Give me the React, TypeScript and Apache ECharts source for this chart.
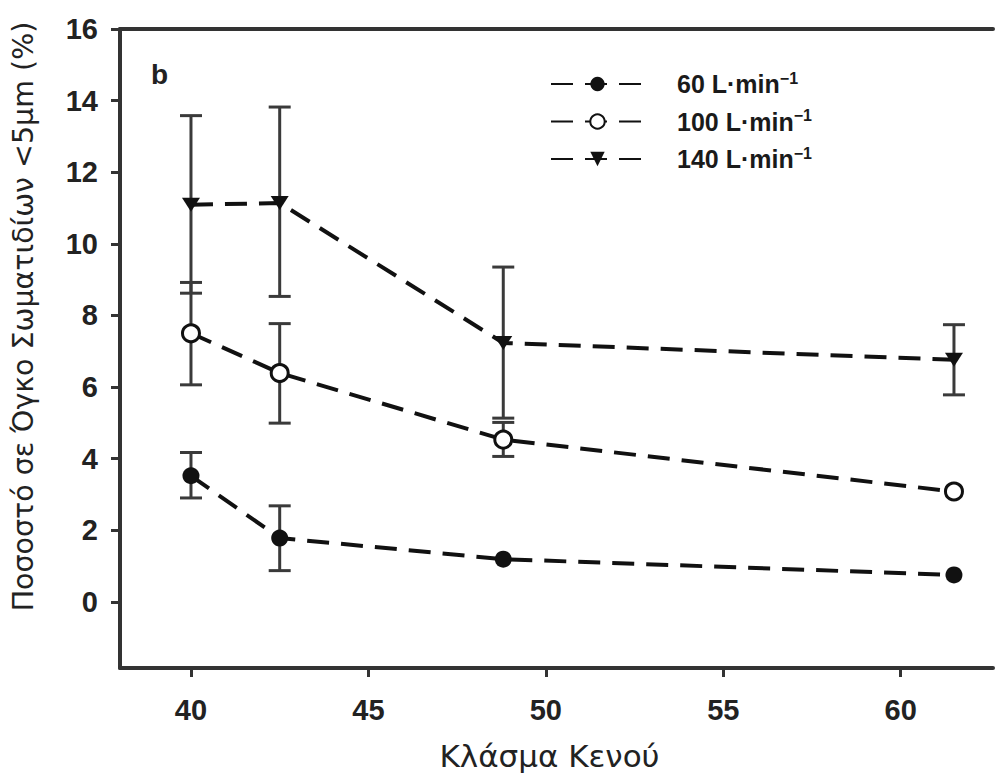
import React, { useEffect, useRef } from "react";
import * as echarts from "echarts";

// ---- data ----
const xValues = [40, 42.5, 48.8, 61.5];
const seriesNames = ["60", "100", "140"];

const y60 = [3.52, 1.78, 1.19, 0.75];
const lo60 = [2.9, 0.87, null, null];
const hi60 = [4.17, 2.68, null, null];

const y100 = [7.5, 6.39, 4.53, 3.08];
const lo100 = [6.06, 4.99, 4.06, null];
const hi100 = [8.92, 7.77, 5.01, null];

const y140 = [11.09, 11.14, 7.23, 6.76];
const lo140 = [8.62, 8.53, 5.13, 5.78];
const hi140 = [13.58, 13.82, 9.35, 7.74];

const xTicks = [40, 45, 50, 55, 60];
const yTicks = [0, 2, 4, 6, 8, 10, 12, 14, 16];

const xTitle = "Κλάσμα Κενού";
const yTitle = "Ποσοστό σε Όγκο Σωματιδίων <5μm (%)";
const panelLabel = "b";

const FONT = "Liberation Sans, Arial, sans-serif";
const TITLE_FONT = "DejaVu Sans, Verdana, sans-serif";
const INK = "#111";
const AXIS = "#333";

function pts(ys: number[]) {
  return xValues.map((x, i) => [x, ys[i]]);
}
function errs(lo: (number | null)[], hi: (number | null)[]) {
  const out: number[][] = [];
  xValues.forEach((x, i) => {
    if (lo[i] != null && hi[i] != null) out.push([x, lo[i] as number, hi[i] as number]);
  });
  return out;
}

function errorSeries(name: string, data: number[][]) {
  return {
    type: "custom",
    name,
    z: 1,
    silent: true,
    encode: { x: 0, y: [1, 2] },
    data,
    renderItem: (params: any, api: any) => {
      const x = api.value(0);
      const pLo = api.coord([x, api.value(1)]);
      const pHi = api.coord([x, api.value(2)]);
      const half = 11;
      const style = { stroke: "#3a3a3a", lineWidth: 3 };
      return {
        type: "group",
        children: [
          { type: "line", shape: { x1: pLo[0], y1: pLo[1], x2: pHi[0], y2: pHi[1] }, style },
          { type: "line", shape: { x1: pLo[0] - half, y1: pLo[1], x2: pLo[0] + half, y2: pLo[1] }, style },
          { type: "line", shape: { x1: pHi[0] - half, y1: pHi[1], x2: pHi[0] + half, y2: pHi[1] }, style },
        ],
      };
    },
  };
}

const lineStyle = { color: INK, width: 4, type: [22, 12] as any };

export default function App() {
  const ref = useRef<HTMLDivElement>(null);
  useEffect(() => {
    if (!ref.current) return;
    const chart = echarts.init(ref.current, null, { renderer: "svg" });
    chart.setOption({
      animation: false,
      backgroundColor: "#fff",
      title: {
        text: panelLabel,
        left: 146,
        top: 55,
        textStyle: { fontFamily: FONT, fontSize: 28, fontWeight: "bold", color: "#222" },
      },
      grid: { left: 120, top: 29, right: 5, bottom: 108, containLabel: false },
      legend: {
        data: seriesNames,
        selectedMode: false,
        orient: "vertical",
        left: 545,
        top: 65,
        itemWidth: 93,
        itemHeight: 18,
        itemGap: 11,
        formatter: (n: string) => `{g| }{a|${n} L·min}{s|−1}`,
        textStyle: {
          fontFamily: FONT,
          fontWeight: "bold",
          fontSize: 25,
          color: "#1a1a1a",
          rich: {
            g: { width: 28 },
            a: { fontFamily: FONT, fontWeight: "bold", fontSize: 25, lineHeight: 28, color: "#1a1a1a" },
            s: { fontFamily: FONT, fontWeight: "bold", fontSize: 16, lineHeight: 16, verticalAlign: "top", color: "#1a1a1a" },
          },
        },
      },
      xAxis: [
        {
          type: "value",
          min: 38,
          max: 62.6,
          name: xTitle,
          nameLocation: "middle",
          nameGap: 72,
          nameTextStyle: { fontFamily: TITLE_FONT, fontSize: 31, color: "#222", padding: [0, 14, 0, 0] },
          axisLine: { show: true, onZero: false, lineStyle: { color: AXIS, width: 4 } },
          axisTick: { show: true, length: 9, lineStyle: { color: AXIS, width: 3 }, customValues: xTicks },
          axisLabel: {
            customValues: xTicks,
            margin: 27,
            fontFamily: FONT,
            fontSize: 29,
            fontWeight: "bold",
            color: "#222",
          },
          splitLine: { show: false },
        },
        {
          type: "value",
          position: "top",
          min: 38,
          max: 62.6,
          axisLine: { show: true, onZero: false, lineStyle: { color: AXIS, width: 4 } },
          axisTick: { show: false },
          axisLabel: { show: false },
          splitLine: { show: false },
        },
      ],
      yAxis: {
        type: "value",
        min: -1.85,
        max: 16,
        name: yTitle,
        nameLocation: "middle",
        nameGap: 82,
        nameTextStyle: { fontFamily: TITLE_FONT, fontSize: 28.5, color: "#222", padding: [0, 0, 0, 64] },
        axisLine: { show: true, onZero: false, lineStyle: { color: AXIS, width: 4 } },
        axisTick: { show: true, length: 9, lineStyle: { color: AXIS, width: 3 }, customValues: yTicks },
        axisLabel: {
          customValues: yTicks,
          margin: 22,
          fontFamily: FONT,
          fontSize: 29,
          fontWeight: "bold",
          color: "#222",
        },
        splitLine: { show: false },
      },
      series: [
        errorSeries("err60", errs(lo60, hi60)),
        errorSeries("err100", errs(lo100, hi100)),
        errorSeries("err140", errs(lo140, hi140)),
        {
          type: "line",
          name: "60",
          z: 3,
          data: pts(y60),
          symbol: "circle",
          symbolSize: 17,
          itemStyle: { color: INK, borderColor: INK, borderWidth: 0 },
          lineStyle,
        },
        {
          type: "line",
          name: "100",
          z: 3,
          data: pts(y100),
          symbol: "circle",
          symbolSize: 17,
          itemStyle: { color: "#fff", borderColor: INK, borderWidth: 3 },
          lineStyle,
        },
        {
          type: "line",
          name: "140",
          z: 3,
          data: pts(y140),
          symbol: "triangle",
          symbolRotate: 180,
          symbolSize: [18, 14],
          itemStyle: { color: INK, borderColor: INK, borderWidth: 0 },
          lineStyle,
        },
      ],
    });
    return () => chart.dispose();
  }, []);
  return (
    <div
      ref={ref}
      style={{ position: "fixed", left: 0, top: 0, width: 998, height: 776, background: "#fff" }}
    />
  );
}
